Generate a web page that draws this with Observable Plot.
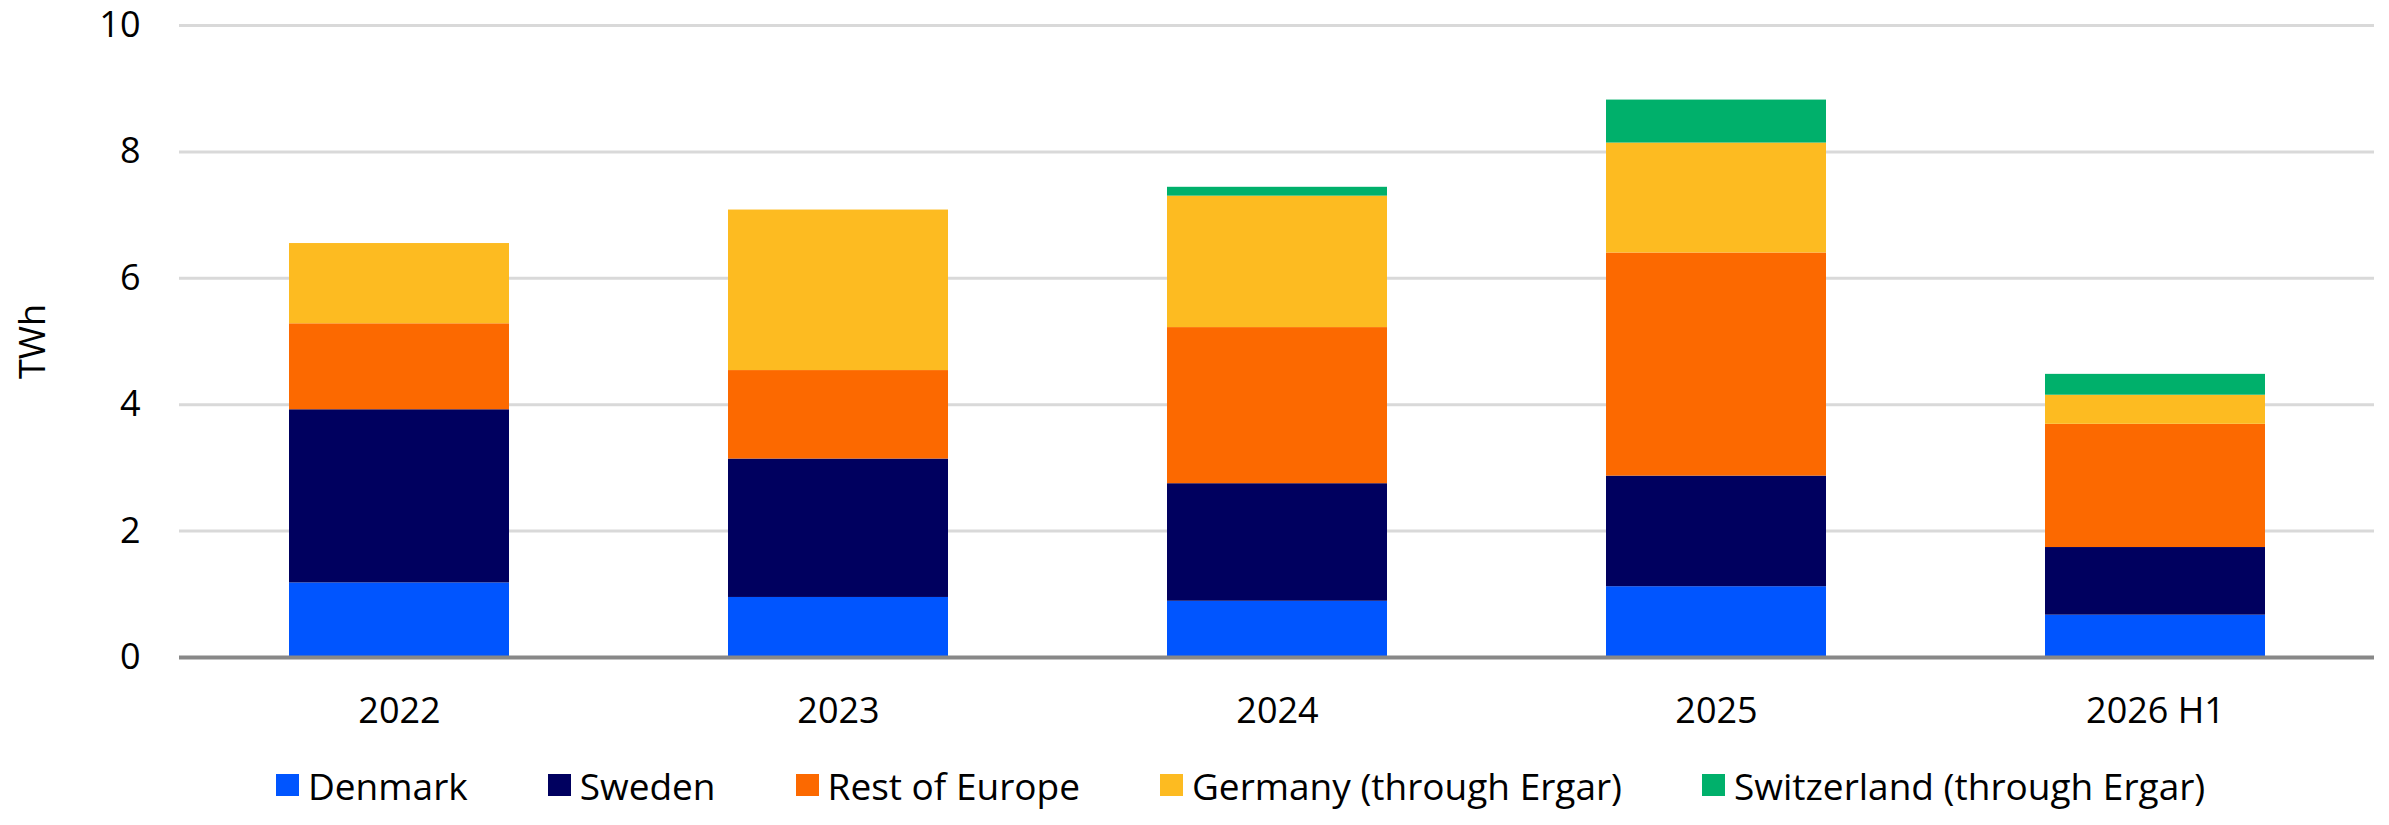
<!DOCTYPE html>
<html>
<head>
<meta charset="utf-8">
<script src="https://cdn.jsdelivr.net/npm/d3@7"></script>
<script src="https://cdn.jsdelivr.net/npm/@observablehq/plot@0.6"></script>
<style>
  html, body { margin: 0; padding: 0; background: #fff; }
  #chart { width: 2389px; }
  #legend {
    display: flex; align-items: center; height: 80px;
    padding-left: 276px; box-sizing: border-box;
    font-family: "Open Sans", sans-serif; font-size: 37px; color: #000;
  }
  .item { display: flex; align-items: center; margin-right: 80px; }
  .sw { width: 23px; height: 22px; margin-right: 9px; }
</style>
</head>
<body>
<div id="chart"></div>
<script>
const categories = ["2022", "2023", "2024", "2025", "2026 H1"];
const seriesNames = ["Denmark", "Sweden", "Rest of Europe", "Germany (through Ergar)", "Switzerland (through Ergar)"];
const colors = ["#0055ff", "#00005f", "#fc6900", "#fdbb21", "#00b06b"];
const denmark     = [1.18, 0.95, 0.89, 1.12, 0.67];
const sweden      = [2.74, 2.19, 1.86, 1.75, 1.07];
const restEurope  = [1.36, 1.40, 2.47, 3.53, 1.95];
const germany     = [1.27, 2.54, 2.08, 1.74, 0.46];
const switzerland = [0.00, 0.00, 0.14, 0.68, 0.33];
const yTicks = [0, 2, 4, 6, 8, 10];

const seriesValues = [denmark, sweden, restEurope, germany, switzerland];
const data = [];
seriesNames.forEach((s, i) => {
  categories.forEach((c, j) => data.push({category: c, series: s, value: seriesValues[i][j]}));
});

const chart = Plot.plot({
  width: 2389,
  height: 745,
  marginLeft: 179,
  marginRight: 15,
  marginTop: 25,
  marginBottom: 88,
  style: {fontFamily: "'Open Sans', sans-serif", fontSize: "35px", color: "#000", background: "#fff"},
  x: {domain: categories, paddingInner: 0.5, paddingOuter: 0.25, label: null},
  y: {domain: [0, 10], ticks: yTicks, label: "TWh"},
  color: {domain: seriesNames, range: colors},
  marks: [
    Plot.gridY(yTicks, {stroke: "#d9d9d9", strokeOpacity: 1, strokeWidth: 3}),
    Plot.barY(data, {x: "category", y: "value", fill: "series"}),
    Plot.ruleY([0], {stroke: "#888", strokeWidth: 4}),
    Plot.axisX({tickSize: 0, tickPadding: 40, label: null, fontSize: 36}),
    Plot.axisY(yTicks, {tickSize: 0, tickPadding: 39, tickFormat: d => String(d), label: "TWh", labelAnchor: "center", labelOffset: 160, labelArrow: "none", fontSize: 36})
  ]
});
document.getElementById("chart").appendChild(chart);

const legend = document.createElement("div");
legend.id = "legend";
seriesNames.forEach((s, i) => {
  const it = document.createElement("div");
  it.className = "item";
  const sw = document.createElement("div");
  sw.className = "sw";
  sw.style.background = colors[i];
  const t = document.createElement("span");
  t.textContent = s;
  it.appendChild(sw); it.appendChild(t);
  legend.appendChild(it);
});
document.body.appendChild(legend);
</script>
</body>
</html>
